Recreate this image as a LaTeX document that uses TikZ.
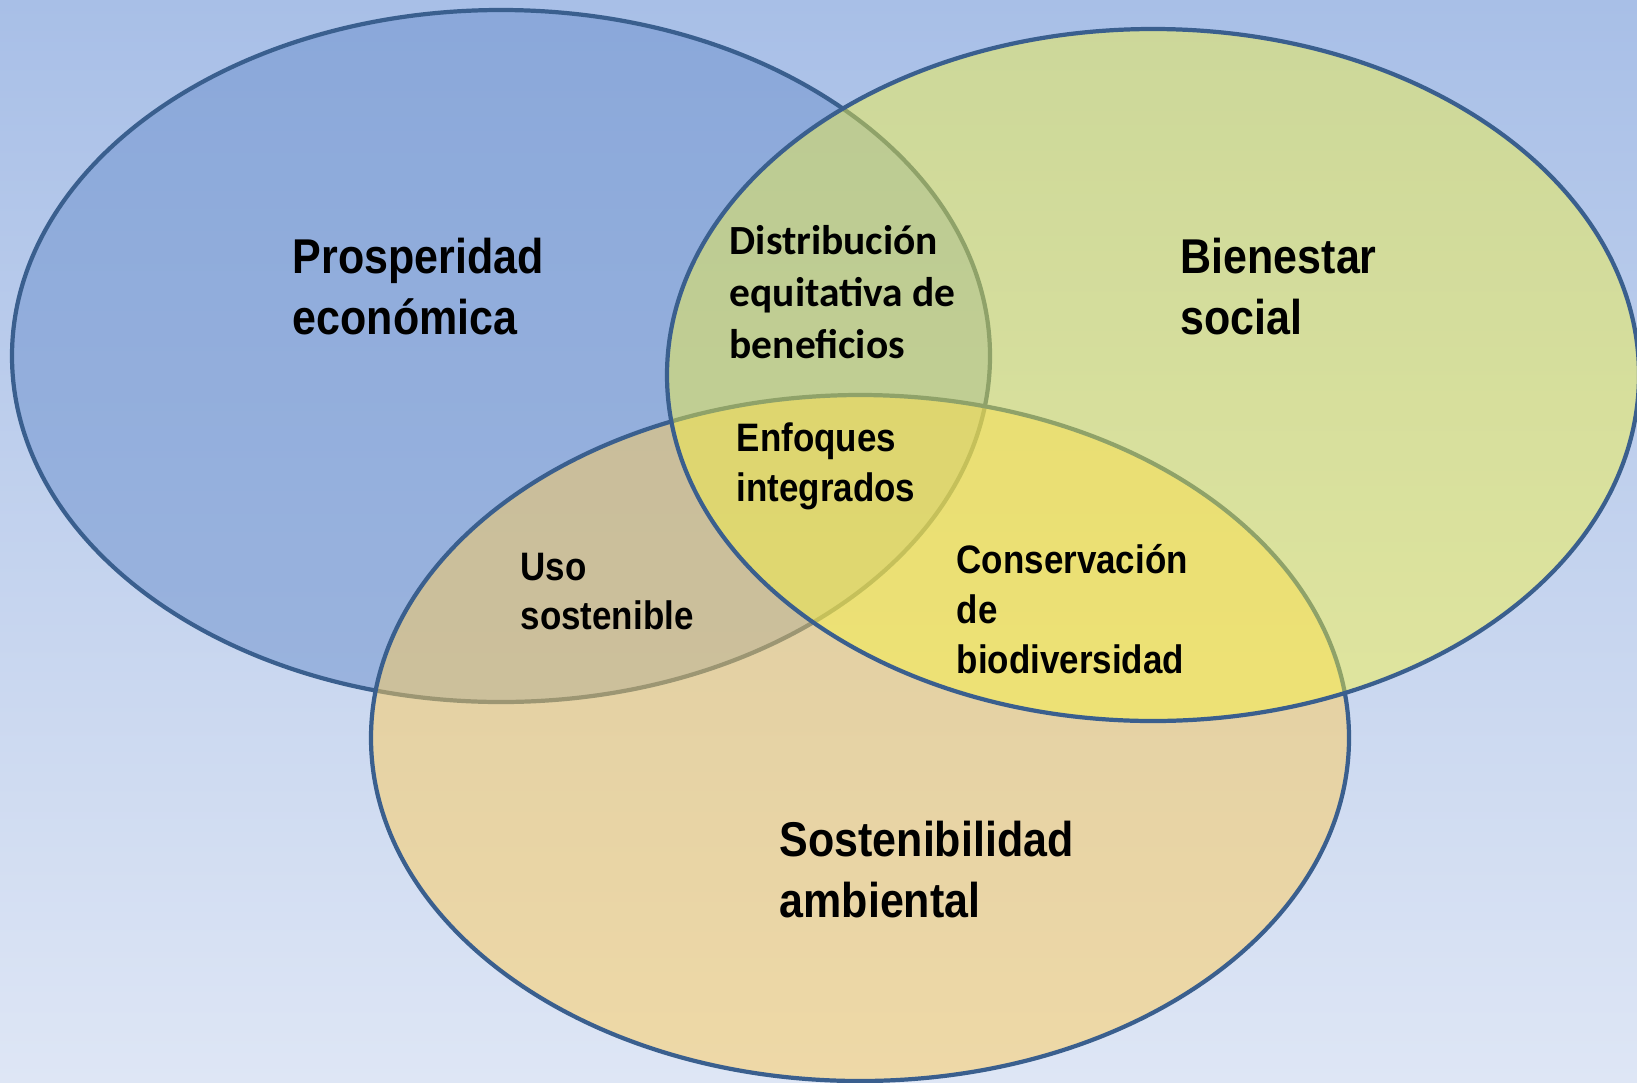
\documentclass[tikz,border=0pt]{standalone}
\usepackage{fontspec}
\usepackage{tikz}
\usetikzlibrary{backgrounds}
\newfontfamily\narrowbold[FakeStretch=0.88]{Liberation Sans}
\newfontfamily\calibrifont{Carlito}
\definecolor{bgtop}{RGB}{168,191,231}
\definecolor{bgbottom}{RGB}{222,230,245}
\definecolor{rim}{RGB}{58,95,142}
\definecolor{econ}{RGB}{115,150,208}
\definecolor{social}{RGB}{248,245,60}
\definecolor{ambient}{RGB}{255,205,90}
\tikzset{
  set/.style={draw=rim, line width=1.2pt},
  biglabel/.style={anchor=north west, inner sep=0pt, align=left,
    font=\narrowbold\bfseries\fontsize{13.9}{17.6}\selectfont},
  midlabel/.style={anchor=north west, inner sep=0pt, align=left,
    font=\narrowbold\bfseries\fontsize{11.3}{14.2}\selectfont},
  smalllabel/.style={anchor=north west, inner sep=0pt, align=left,
    font=\calibrifont\bfseries\fontsize{11.8}{14.8}\selectfont}
}

\begin{document}
\begin{tikzpicture}
            \useasboundingbox (0,0) rectangle (16.37,-10.82);
            \shade[top color=bgtop, bottom color=bgbottom] (0,0) rectangle (16.37,-10.82);
            \begin{scope}
                \filldraw[set, fill=econ, fill opacity=0.55]    (5.01,-3.56) ellipse [x radius=4.89cm, y radius=3.46cm];
                \filldraw[set, fill=ambient, fill opacity=0.5]  (8.60,-7.38) ellipse [x radius=4.89cm, y radius=3.43cm];
                \filldraw[set, fill=social, fill opacity=0.45]  (11.53,-3.75) ellipse [x radius=4.86cm, y radius=3.46cm];
            \end{scope}
            \node[biglabel] (econlabel)   at (2.92,-2.37)  {Prosperidad\\econ\'omica};
            \node[biglabel] (sociallabel) at (11.80,-2.37) {Bienestar\\social};
            \node[biglabel] (envlabel)    at (7.79,-8.20)  {Sostenibilidad\\ambiental};
            \node[smalllabel] (equity)    at (7.29,-2.25)  {Distribuci\'on\\equitativa de\\beneficios};
            \node[midlabel] (integrated)  at (7.36,-4.22)  {Enfoques\\integrados};
            \node[midlabel] (sustain)     at (5.20,-5.52)  {Uso\\sostenible};
            \node[midlabel] (biodiv)      at (9.56,-5.44)  {Conservaci\'on\\de\\biodiversidad};
        \end{tikzpicture}
\end{document}
